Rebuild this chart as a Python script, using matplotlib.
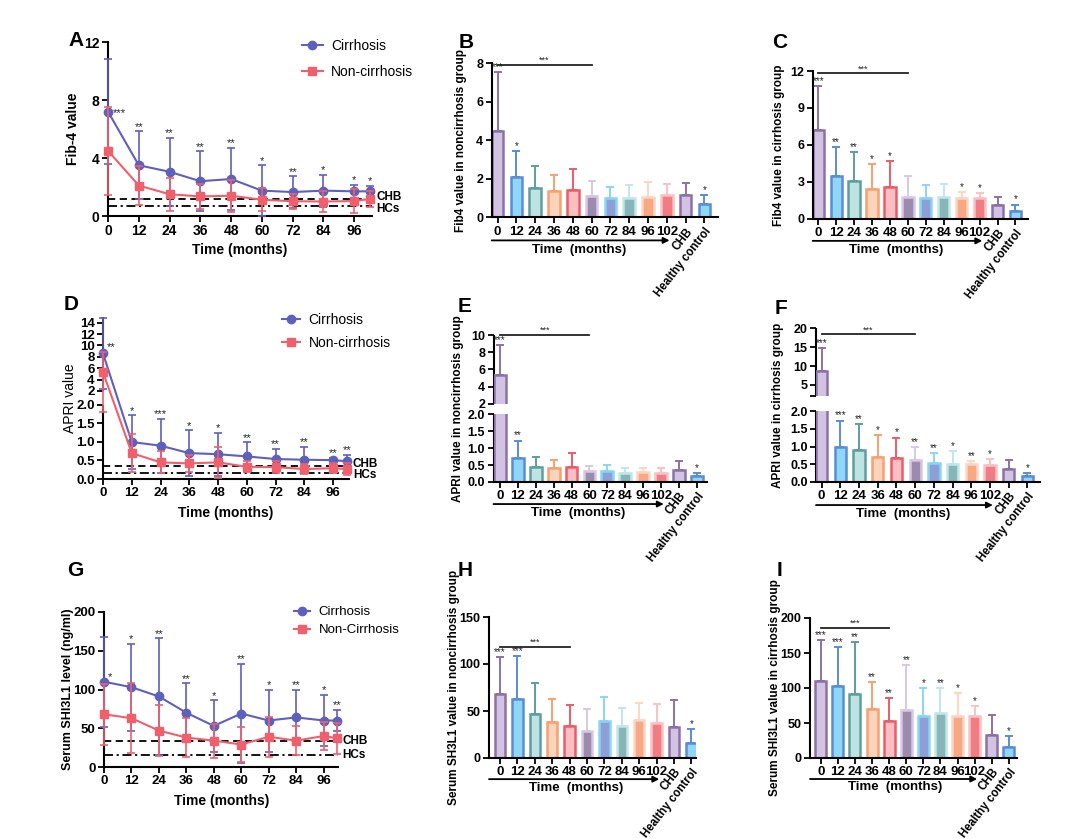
import numpy as np
import matplotlib
matplotlib.use('Agg')
import matplotlib.pyplot as plt
from matplotlib.lines import Line2D

W, H = 1080, 839

months = [0, 12, 24, 36, 48, 60, 72, 84, 96, 102]
bar_labels = ['0', '12', '24', '36', '48', '60', '72', '84', '96', '102', 'CHB', 'Healthy control']

# Fib-4 (10 time points, then CHB, healthy control)
fib4_cir_mean = [7.2, 3.5, 3.05, 2.4, 2.55, 1.75, 1.65, 1.75, 1.7, 1.7, 1.15, 0.65]
fib4_cir_sd = [3.6, 2.35, 2.35, 2.05, 2.15, 1.75, 1.1, 1.1, 0.45, 0.4, 0.65, 0.5]
fib4_non_mean = [4.5, 2.1, 1.5, 1.35, 1.4, 1.12, 1.02, 1.0, 1.03, 1.17, 1.15, 0.68]
fib4_non_sd = [3.05, 1.35, 1.15, 0.85, 1.1, 0.78, 0.53, 0.7, 0.82, 0.55, 0.65, 0.47]

# APRI
apri_cir_mean = [8.6, 1.0, 0.9, 0.7, 0.67, 0.61, 0.54, 0.52, 0.51, 0.48, 0.36, 0.16]
apri_cir_sd = [6.2, 0.73, 0.73, 0.62, 0.58, 0.38, 0.28, 0.35, 0.07, 0.17, 0.26, 0.09]
apri_non_mean = [5.3, 0.7, 0.45, 0.42, 0.45, 0.33, 0.32, 0.27, 0.29, 0.27, 0.35, 0.17]
apri_non_sd = [3.5, 0.52, 0.3, 0.23, 0.41, 0.15, 0.17, 0.13, 0.13, 0.15, 0.26, 0.09]

# SHI3L1
shi_cir_mean = [110, 103, 91, 70, 53, 69, 60, 64, 60, 60, 33, 16]
shi_cir_sd = [58, 56, 75, 38, 33, 64, 40, 36, 33, 14, 29, 15]
shi_non_mean = [68, 63, 47, 38, 34, 29, 39, 34, 40, 37, 33, 16]
shi_non_sd = [39, 45, 33, 25, 22, 23, 26, 19, 18, 20, 29, 15]

# significance marks
stars_A = ['***', '**', '**', '**', '**', '*', '**', '*', '*', '*']
stars_B = ['***', '*', '', '', '', '', '', '', '', '', '', '*']
stars_C = ['***', '**', '**', '*', '*', '', '', '', '*', '*', '', '*']
stars_D = ['**', '*', '***', '*', '*', '**', '**', '**', '**', '**']
stars_E = ['***', '**', '', '', '', '', '', '', '', '', '', '*']
stars_F = ['***', '***', '**', '*', '*', '**', '**', '*', '**', '*', '', '*']
stars_G = ['*', '*', '**', '**', '*', '**', '*', '**', '*', '**']
stars_H = ['***', '***', '', '', '', '', '', '', '', '', '', '*']
stars_I = ['***', '***', '**', '**', '**', '**', '*', '**', '*', '*', '', '*']

fill_colors = ['#D3C3E3', '#8FD8F5', '#BEE3E3', '#FDD3BC', '#F9BFC3', '#9D8BAE',
               '#8E9FD8', '#86B6B8', '#F8A882', '#F27C84', '#D3C3E3', '#8FD8F5']
edge_colors = ['#8A72A8', '#5A8CD8', '#5E9E9E', '#F7A070', '#EC5C68', '#D8C8E8',
               '#88D6F4', '#C2E6EA', '#FDD5C5', '#F9C2C5', '#8A72A8', '#5A8CD8']

BLUE = '#5E60BE'
RED = '#F0606C'

plt.rcParams['font.family'] = ['Liberation Sans', 'DejaVu Sans']
plt.rcParams['font.weight'] = 'bold'
plt.rcParams['axes.labelweight'] = 'bold'


def add_axes_px(fig, left, top, right, bottom):
    return fig.add_axes([left / W, 1 - bottom / H, (right - left) / W, (bottom - top) / H])


def style_axes(ax, labelsize=9.5):
    ax.spines['top'].set_visible(False)
    ax.spines['right'].set_visible(False)
    ax.spines['left'].set_linewidth(1.5)
    ax.spines['bottom'].set_linewidth(1.5)
    ax.tick_params(direction='out', length=4, width=1.3, labelsize=labelsize, pad=2)


def set_ylabel_px(ax, text, off_px, size, weight='bold'):
    w = ax.get_position().width * W
    ax.set_ylabel(text, fontsize=size, fontweight=weight, va='center')
    ax.yaxis.set_label_coords(-off_px / w, 0.5)


def broken_y(ax, brk, lo, gap, hi, top):
    def fwd(y):
        y = np.asarray(y, dtype=float)
        return np.where(y <= brk, y * lo, brk * lo + gap + (y - brk) * hi)

    def inv(u):
        u = np.asarray(u, dtype=float)
        up = brk + (u - brk * lo - gap) / hi
        return np.where(u <= brk * lo, u / lo, np.where(u < brk * lo + gap, brk, up))

    ax.set_yscale('function', functions=(fwd, inv))
    ax.spines['left'].set_visible(False)
    tr = ax.get_yaxis_transform()
    ax.plot([0, 0], [0, brk], transform=tr, color='black', lw=1.5, clip_on=False, solid_capstyle='butt')
    ax.plot([0, 0], [brk + 1e-6, top], transform=tr, color='black', lw=1.5, clip_on=False, solid_capstyle='butt')
    ax.set_ylim(0, top)


def star(ax, x, y, s, dx=0.0, dy=1.0, ha='center', size=7):
    if s:
        ax.annotate(s, (x, y), xytext=(dx, dy), textcoords='offset points', ha=ha, va='baseline',
                    fontsize=size, fontweight='normal', color='#222222', annotation_clip=False)


def line_panel(ax, cir_mean, cir_sd, non_mean, non_sd, stars, leg_labels, leg_px, zero_star, ref_dy):
    n = len(months)
    ax.errorbar(months, cir_mean[:n], yerr=cir_sd[:n], fmt='none', ecolor=BLUE, elinewidth=1.2,
                capsize=3, capthick=1.2, clip_on=False, zorder=3)
    ax.plot(months, cir_mean[:n], color=BLUE, marker='o', ms=6, lw=1.5, clip_on=False, zorder=3)
    ax.errorbar(months, non_mean[:n], yerr=non_sd[:n], fmt='none', ecolor=RED, elinewidth=1.2,
                capsize=3, capthick=1.2, clip_on=False, zorder=4)
    ax.plot(months, non_mean[:n], color=RED, marker='s', ms=5.5, lw=1.5, clip_on=False, zorder=4)

    # reference levels: CHB and healthy controls
    ax.axhline(cir_mean[10], color='black', ls=(0, (4, 2.5)), lw=1.3, zorder=2)
    ax.axhline(non_mean[11], color='black', ls=(0, (5, 2, 1.2, 2)), lw=1.3, zorder=2)
    tr = ax.get_yaxis_transform()
    ax.annotate('CHB', (1.0, cir_mean[10]), xycoords=tr, xytext=(3, ref_dy), textcoords='offset points',
                ha='left', va='center', fontsize=8.5, annotation_clip=False)
    ax.annotate('HCs', (1.0, non_mean[11]), xycoords=tr, xytext=(3, -ref_dy), textcoords='offset points',
                ha='left', va='center', fontsize=8.5, annotation_clip=False)

    for i, s in enumerate(stars):
        if i == 0:
            star(ax, months[0], cir_mean[0], s, dx=zero_star[0], dy=zero_star[1], ha='left', size=8)
        else:
            star(ax, months[i], cir_mean[i] + cir_sd[i], s, dy=1.0, size=8)

    ax.set_xticks(months[:-1])
    ax.set_xlabel('Time (months)', fontsize=10, va='center')
    h = ax.get_position().height * H
    ax.xaxis.set_label_coords(0.5, -34 / h)

    handles = [Line2D([], [], color=BLUE, marker='o', ms=6, lw=1.5),
               Line2D([], [], color=RED, marker='s', ms=5.5, lw=1.5)]
    ax.legend(handles, leg_labels, loc='upper left', bbox_to_anchor=(leg_px[0] / W, 1 - leg_px[1] / H),
              bbox_transform=plt.gcf().transFigure, frameon=False, borderpad=0, borderaxespad=0,
              handlelength=leg_px[2], handletextpad=0.6, labelspacing=leg_px[3],
              prop={'size': leg_px[4], 'weight': 'normal'})


def bar_panel(ax, means, sds, stars, width, bracket_end, bracket_y, xlim):
    x = np.arange(len(means))
    ax.bar(x, means, width, color=fill_colors, edgecolor=edge_colors, linewidth=1.8, zorder=2)
    for i in range(len(means)):
        ax.errorbar(x[i], means[i], yerr=[[0], [sds[i]]], fmt='none', ecolor=edge_colors[i],
                    elinewidth=1.4, capsize=3, capthick=1.4, zorder=1)
        star(ax, x[i], means[i] + sds[i], stars[i], dy=1.5, size=7)
    ax.plot([0, bracket_end], [bracket_y, bracket_y], color='#222222', lw=1.3, clip_on=False, zorder=3)
    star(ax, bracket_end / 2, bracket_y, '***', dy=1.5, size=6.5)

    ax.set_xlim(*xlim)
    ax.set_xticks(x)
    ax.set_xticklabels(bar_labels)
    for lab in ax.get_xticklabels()[10:]:
        lab.set_rotation(52)
        lab.set_ha('right')
        lab.set_va('top')
        lab.set_rotation_mode('anchor')
        lab.set_fontsize(8.3)
    ax.tick_params(axis='y', labelsize=9)

    ax.annotate('', xy=(9.15, -0.15), xytext=(xlim[0], -0.15), xycoords=('data', 'axes fraction'),
                arrowprops=dict(arrowstyle='-|>', color='black', lw=1.3, mutation_scale=9,
                                shrinkA=0, shrinkB=0), annotation_clip=False)
    ax.text(4.35, -0.21, 'Time  (months)', transform=ax.get_xaxis_transform(), ha='center', va='center',
            fontsize=9.5)


fig = plt.figure(figsize=(W / 100, H / 100), dpi=100)

# ---------------- A ----------------
axA = add_axes_px(fig, 108, 42, 372.2, 216)
style_axes(axA, 10)
line_panel(axA, fib4_cir_mean, fib4_cir_sd, fib4_non_mean, fib4_non_sd, stars_A,
           ['Cirrhosis', 'Non-cirrhosis'], (302, 39, 1.5, 0.85, 10), (3.6, -3.0), 2)
axA.set_xlim(0, 103)
axA.set_ylim(0, 12)
axA.set_yticks([0, 4, 8, 12])
set_ylabel_px(axA, 'Fib-4 value', 35, 10)

# ---------------- B ----------------
axB = add_axes_px(fig, 491.7, 63.3, 717.7, 217.3)
style_axes(axB, 9.5)
bar_panel(axB, fib4_non_mean, fib4_non_sd, stars_B, 0.62, 5, 7.9, (-0.31, 11.71))
axB.set_ylim(0, 8)
axB.set_yticks([0, 2, 4, 6, 8])
set_ylabel_px(axB, 'Fib4 value in noncirrhosis group', 31, 8.5)

# ---------------- C ----------------
axC = add_axes_px(fig, 812.7, 71, 1028, 218.7)
style_axes(axC, 9.5)
bar_panel(axC, fib4_cir_mean, fib4_cir_sd, stars_C, 0.63, 5, 11.8, (-0.31, 11.7))
axC.set_ylim(0, 12)
axC.set_yticks([0, 3, 6, 9, 12])
set_ylabel_px(axC, 'Fib4 value in cirrhosis group', 34, 8.5)

# ---------------- D ----------------
axD = add_axes_px(fig, 103, 317, 348.6, 479)
style_axes(axD, 9.5)
broken_y(axD, 2, 37, 14, 5.69, 15)
line_panel(axD, apri_cir_mean, apri_cir_sd, apri_non_mean, apri_non_sd, stars_D,
           ['Cirrhosis', 'Non-cirrhosis'], (282, 313, 1.3, 0.65, 10), (2.7, 2.5), 1.5)
axD.set_xlim(0, 102.5)
axD.set_ylim(0, 15)
axD.set_yticks([0, 0.5, 1.0, 1.5, 2.0, 2.000001, 4, 6, 8, 10, 12, 14])
axD.set_yticklabels(['0.0', '0.5', '1.0', '1.5', '2.0', '2', '4', '6', '8', '10', '12', '14'])
set_ylabel_px(axD, 'APRI value', 33, 10, weight='normal')

# ---------------- E ----------------
axE = add_axes_px(fig, 493.5, 335, 706.7, 482)
style_axes(axE, 9.5)
broken_y(axE, 2, 34, 10.3, 8.59, 10)
bar_panel(axE, apri_non_mean, apri_non_sd, stars_E, 0.66, 5, 10, (-0.36, 11.55))
axE.bar(0, 1e-6, 0.66 + 0.3, bottom=2, color='white', linewidth=0, zorder=3)
axE.set_ylim(0, 10)
axE.set_yticks([0, 0.5, 1.0, 1.5, 2.0, 2.000001, 4, 6, 8, 10])
axE.set_yticklabels(['0.0', '0.5', '1.0', '1.5', '2.0', '2', '4', '6', '8', '10'])
set_ylabel_px(axE, 'APRI value in noncirrhosis group', 36, 8.5)

# ---------------- F ----------------
axF = add_axes_px(fig, 816, 328.3, 1040, 482)
style_axes(axF, 9.5)
broken_y(axF, 2, 35.5, 14.7, 3.78, 20)
bar_panel(axF, apri_cir_mean, apri_cir_sd, stars_F, 0.6, 5, 18.4, (-0.3, 11.67))
axF.bar(0, 1e-6, 0.6 + 0.3, bottom=2, color='white', linewidth=0, zorder=3)
axF.set_ylim(0, 20)
axF.set_yticks([0, 0.5, 1.0, 1.5, 2.0, 2.000001, 5, 10, 15, 20])
axF.set_yticklabels(['0.0', '0.5', '1.0', '1.5', '2.0', '', '5', '10', '15', '20'])
set_ylabel_px(axF, 'APRI value in cirrhosis group', 38, 8.5)

# ---------------- G ----------------
axG = add_axes_px(fig, 104, 612, 338.5, 767)
style_axes(axG, 9.5)
line_panel(axG, shi_cir_mean, shi_cir_sd, shi_non_mean, shi_non_sd, stars_G,
           ['Cirrhosis', 'Non-Cirrhosis'], (294, 606, 1.25, 0.45, 9.5), (2.7, 1.5), 0)
axG.set_xlim(0, 102.5)
axG.set_ylim(0, 200)
axG.set_yticks([0, 50, 100, 150, 200])
set_ylabel_px(axG, 'Serum SHI3L1 level (ng/ml)', 36, 9)

# ---------------- H ----------------
axH = add_axes_px(fig, 489, 617, 696, 758)
style_axes(axH, 9.5)
bar_panel(axH, shi_non_mean, shi_non_sd, stars_H, 0.6, 4, 118, (-0.63, 11.26))
axH.set_ylim(0, 150)
axH.set_yticks([0, 50, 100, 150])
set_ylabel_px(axH, 'Serum SH3L1 value in noncirrhosis group', 35, 8.5)

# ---------------- I ----------------
axI = add_axes_px(fig, 810, 618, 1016.7, 758)
style_axes(axI, 9.5)
bar_panel(axI, shi_cir_mean, shi_cir_sd, stars_I, 0.64, 4, 186, (-0.63, 11.46))
axI.set_ylim(0, 200)
axI.set_yticks([0, 50, 100, 150, 200])
set_ylabel_px(axI, 'Serum SHI3L1 value in cirrhosis group', 35, 8.5)

# panel letters
for letter, lx, ly in [('A', 76, 41), ('B', 466, 42), ('C', 780, 42),
                       ('D', 71, 305), ('E', 465, 306), ('F', 781, 308),
                       ('G', 75, 570), ('H', 465, 570), ('I', 779, 570)]:
    fig.text(lx / W, 1 - ly / H, letter, fontsize=15, fontweight='bold', ha='center', va='center')

fig.savefig('out.png', dpi=100)
